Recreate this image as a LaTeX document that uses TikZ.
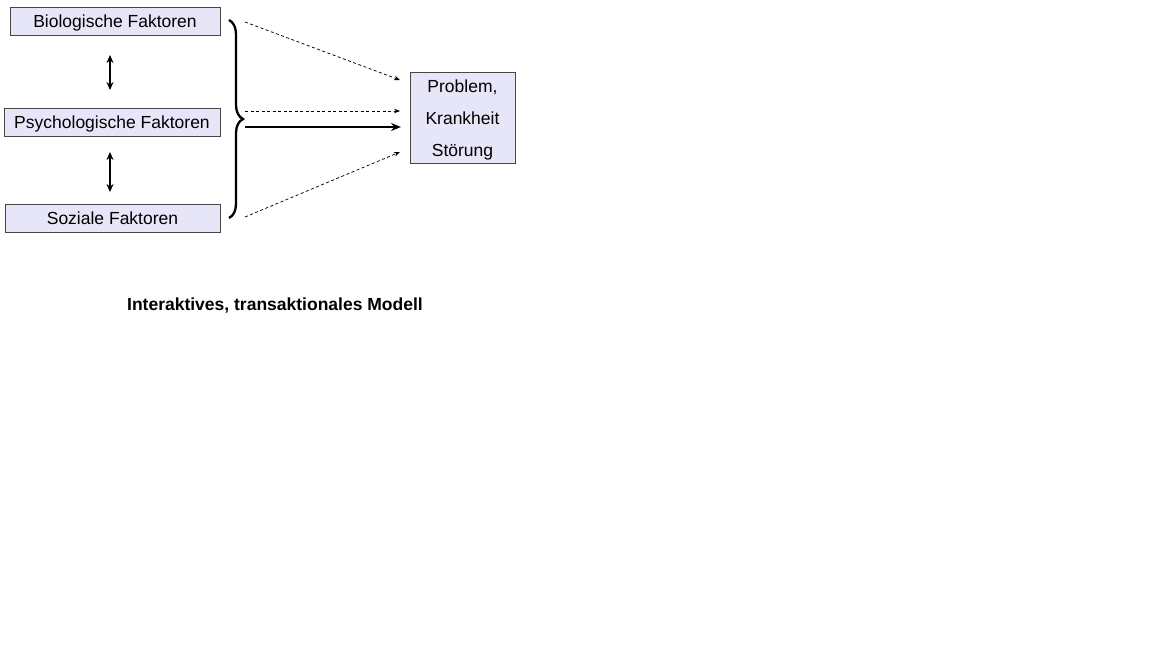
\documentclass[tikz,border=0pt]{standalone}
\usepackage{fontspec}
\setmainfont{Liberation Sans}
\usetikzlibrary{arrows.meta,decorations.pathreplacing}
\definecolor{boxfill}{RGB}{230,230,248}
\definecolor{boxline}{RGB}{70,70,70}
\begin{document}
\begin{tikzpicture}[x=1pt,y=-1pt,
  factor/.style={draw=boxline,fill=boxfill,line width=0.8pt,inner sep=0pt,
    text height=16.8pt,text depth=3.7pt,
    font=\fontsize{17.5}{21}\selectfont},
  dasharrow/.style={dashed,dash pattern=on 3pt off 2.5pt,line width=0.75pt,-{Stealth[length=6pt,width=4.5pt]}},
  solidarrow/.style={line width=2.3pt,-{Stealth[length=10pt,width=8pt]}},
  dblarrow/.style={line width=1.7pt,{Stealth[length=8pt,width=7pt]}-{Stealth[length=8pt,width=7pt]}}]
\useasboundingbox (0,0) rectangle (1152,648);
\node[factor,minimum width=210pt,minimum height=28pt] (bio) at (115,21) {Biologische Faktoren};
\node[factor,minimum width=216pt,minimum height=28pt] (psy) at (112,122) {Psychologische Faktoren};
\node[factor,minimum width=215pt,minimum height=28pt] (soz) at (112.5,218) {Soziale Faktoren};
\node[draw=boxline,fill=boxfill,line width=0.8pt,inner sep=0pt,minimum width=105pt,minimum height=91pt,align=center,
  text height=80.8pt,text depth=3.7pt,font=\fontsize{17.5}{32}\selectfont] (prob) at (462.5,117.5) {Problem,\\Krankheit\\Störung};
\coordinate (a1) at (110,55); \coordinate (a2) at (110,90);
\coordinate (b1) at (110,152); \coordinate (b2) at (110,192);
\draw[dblarrow] (a1) -- (a2);
\draw[dblarrow] (b1) -- (b2);
\coordinate (brtop) at (229,20); \coordinate (brbot) at (229,218);
\draw[line width=2.3pt,decorate,decoration={brace,amplitude=14pt,aspect=0.5}] (brtop) -- (brbot);
\coordinate (s1) at (245,22); \coordinate (e1) at (400,80);
\coordinate (s2) at (245,111); \coordinate (e2) at (400,111);
\coordinate (s3) at (245,127); \coordinate (e3) at (401,127);
\coordinate (s4) at (245,217); \coordinate (e4) at (400,152);
\draw[dasharrow] (s1) -- (e1);
\draw[dasharrow] (s2) -- (e2);
\draw[solidarrow] (s3) -- (e3);
\draw[dasharrow] (s4) -- (e4);
\node[font=\fontsize{17.5}{21}\selectfont\bfseries,anchor=base] (title) at (275,310) {Interaktives, transaktionales Modell};
\end{tikzpicture}
\end{document}
